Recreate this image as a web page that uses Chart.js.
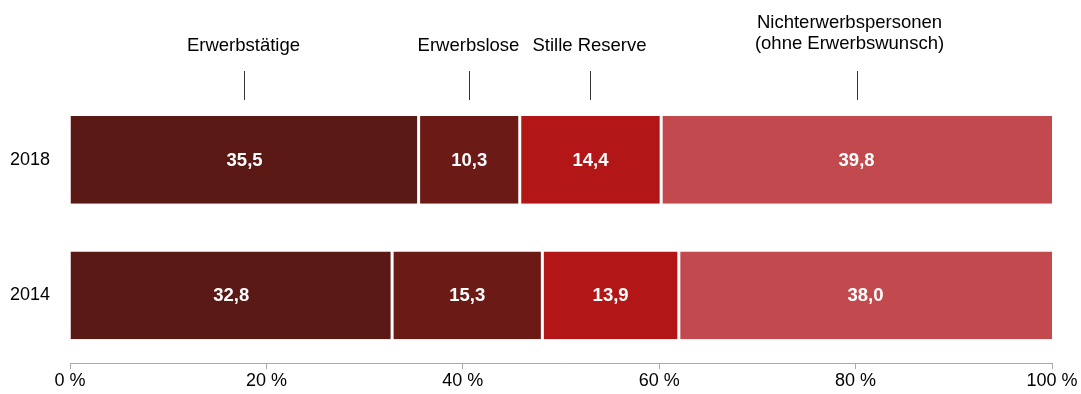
<!DOCTYPE html>
<html>
<head>
<meta charset="utf-8">
<script src="https://cdn.jsdelivr.net/npm/chart.js@4"></script>
<style>
  html, body { margin: 0; padding: 0; background: #fff; }
  #wrap { width: 1081px; height: 394px; }
</style>
</head>
<body>
<div id="wrap"><canvas id="barChart" width="1081" height="394"></canvas></div>
<script>
// Daten
const jahre = ['2018', '2014'];
const gruppen = ['Erwerbstätige', 'Erwerbslose', 'Stille Reserve', ['Nichterwerbspersonen', '(ohne Erwerbswunsch)']];
const erwerbstaetige = [35.5, 32.8];
const erwerbslose = [10.3, 15.3];
const stilleReserve = [14.4, 13.9];
const nichterwerbspersonen = [39.8, 38.0];
const farben = ['#5a1915', '#6b1a16', '#b31616', '#c24a4e'];
const xTicks = [0, 20, 40, 60, 80, 100];

const werte = [erwerbstaetige, erwerbslose, stilleReserve, nichterwerbspersonen];
const schrift = 'Liberation Sans, Arial, sans-serif';

// Werte in die Balken schreiben
const wertePlugin = {
    id: 'werte',
    afterDatasetsDraw(chart) {
        const ctx = chart.ctx;
        ctx.save();
        ctx.fillStyle = '#fff';
        ctx.font = 'bold 18.5px ' + schrift;
        ctx.textAlign = 'center';
        ctx.textBaseline = 'middle';
        chart.data.datasets.forEach((ds, i) => {
            chart.getDatasetMeta(i).data.forEach((bar, j) => {
                const p = bar.getProps(['x', 'y', 'base']);
                ctx.fillText(ds.data[j].toFixed(1).replace('.', ','), (p.x + p.base) / 2, p.y + 1);
            });
        });
        ctx.restore();
    }
};

// Beschriftung oben (an den Balken von 2018)
const kopfPlugin = {
    id: 'kopf',
    afterDraw(chart) {
        const ctx = chart.ctx;
        const x = chart.scales.x;
        ctx.save();
        ctx.font = '18.5px ' + schrift;
        ctx.fillStyle = '#000';
        ctx.textAlign = 'center';
        ctx.textBaseline = 'middle';
        ctx.strokeStyle = '#333';
        ctx.lineWidth = 1;
        let summe = 0;
        gruppen.forEach((g, i) => {
            const mitte = summe + werte[i][0] / 2;
            summe += werte[i][0];
            const px = Math.round(x.getPixelForValue(mitte)) + 0.5;
            if (Array.isArray(g)) {
                // zweizeiliger Text steht etwas links vom Strich
                ctx.fillText(g[0], px - 8, 23);
                ctx.fillText(g[1], px - 8, 44);
            } else {
                ctx.fillText(g, px - 1, 46);
            }
            ctx.beginPath();
            ctx.moveTo(px, 71);
            ctx.lineTo(px, 100);
            ctx.stroke();
        });
        ctx.restore();
    }
};

const letzter = werte.length - 1;
const datasets = werte.map((w, i) => ({
    label: Array.isArray(gruppen[i]) ? gruppen[i].join(' ') : gruppen[i],
    data: w,
    backgroundColor: farben[i],
    borderColor: '#fff',
    borderWidth: { left: i === 0 ? 0 : 1.5, right: i === letzter ? 0 : 1.5, top: 0, bottom: 0 },
    borderSkipped: false,
    categoryPercentage: 1,
    barPercentage: 0.647
}));

const ctx = document.getElementById('barChart').getContext('2d');
new Chart(ctx, {
    type: 'bar',
    data: { labels: jahre, datasets: datasets },
    options: {
        indexAxis: 'y',
        responsive: false,
        animation: false,
        layout: { padding: { top: 92, right: 29, bottom: 0, left: 0 } },
        plugins: {
            legend: { display: false },
            tooltip: { enabled: false }
        },
        scales: {
            x: {
                stacked: true,
                min: 0,
                max: 100,
                afterBuildTicks(axis) { axis.ticks = xTicks.map(v => ({ value: v })); },
                afterFit(axis) { axis.height = 29; },
                grid: { drawOnChartArea: false, drawTicks: true, tickLength: 6, color: '#aaa' },
                border: { color: '#aaa' },
                ticks: {
                    color: '#000',
                    font: { family: schrift, size: 18 },
                    padding: 1,
                    maxRotation: 0,
                    callback: v => v + ' %'
                }
            },
            y: {
                stacked: true,
                grid: { display: false, drawTicks: false },
                border: { display: false },
                afterFit(axis) { axis.width = 70; },
                ticks: {
                    color: '#000',
                    font: { family: schrift, size: 18 },
                    padding: 20
                }
            }
        }
    },
    plugins: [wertePlugin, kopfPlugin]
});
</script>
</body>
</html>
